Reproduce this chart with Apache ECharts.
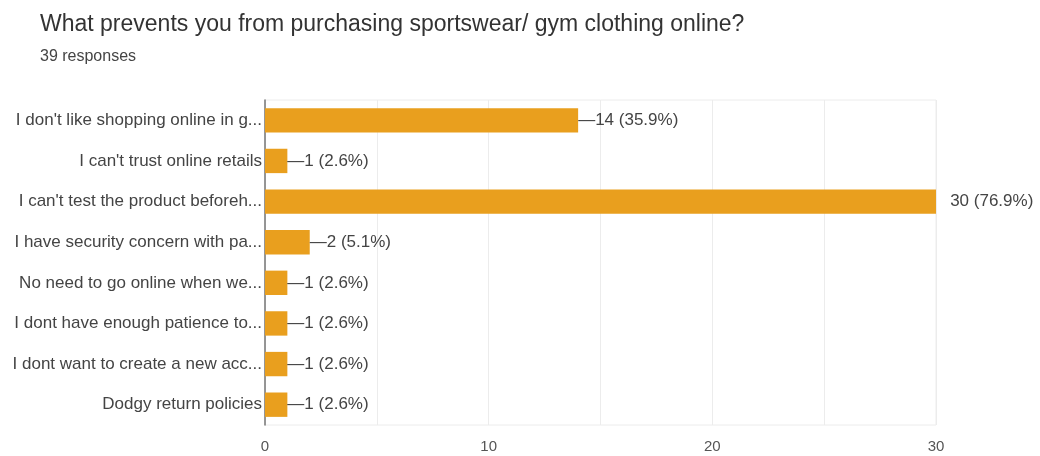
<!DOCTYPE html>
<html>
<head>
<meta charset="utf-8">
<script src="https://cdn.jsdelivr.net/npm/echarts@6/dist/echarts.min.js"></script>
<style>
  html, body { margin: 0; padding: 0; background: #fff; }
  #app { width: 1040px; height: 456px; }
</style>
</head>
<body>
<div id="app"></div>
<script>
// survey answers, top to bottom
const categories = [
  "I don't like shopping online in g...",
  "I can't trust online retails",
  "I can't test the product beforeh...",
  "I have security concern with pa...",
  "No need to go online when we...",
  "I dont have enough patience to...",
  "I dont want to create a new acc...",
  "Dodgy return policies"
];
const counts = [14, 1, 30, 2, 1, 1, 1, 1];
const percents = ["35.9%", "2.6%", "76.9%", "5.1%", "2.6%", "2.6%", "2.6%", "2.6%"];
const xTicks = [0, 10, 20, 30];

var myChart = echarts.init(document.getElementById("app"));
let option = {
  animation: false,
  title: {
    text: "What prevents you from purchasing sportswear/ gym clothing online?",
    subtext: "39 responses",
    left: 35,
    top: 8,
    itemGap: 13,
    textStyle: {
      fontFamily: "Liberation Sans",
      fontSize: 23,
      fontWeight: "normal",
      color: "#333"
    },
    subtextStyle: {
      fontFamily: "Liberation Sans",
      fontSize: 16,
      color: "#444"
    }
  },
  grid: {
    left: 265,
    right: 104,
    top: 100,
    bottom: 31,
    show: true,
    borderColor: "#ececec",
    borderWidth: 1
  },
  xAxis: {
    type: "value",
    min: 0,
    max: 30,
    interval: 5,
    axisLine: { show: false },
    axisTick: { show: false },
    splitLine: { lineStyle: { color: "#ececec", width: 1 } },
    axisLabel: {
      margin: 14,
      fontFamily: "Liberation Sans",
      fontSize: 15,
      color: "#555",
      formatter: function (v) {
        return xTicks.indexOf(v) >= 0 ? String(v) : "";
      }
    }
  },
  yAxis: {
    type: "category",
    inverse: true,
    data: categories,
    axisLine: { show: true, lineStyle: { color: "#777", width: 1.5 } },
    axisTick: { show: false },
    axisLabel: {
      margin: 3,
      fontFamily: "Liberation Sans",
      fontSize: 17,
      color: "#444"
    }
  },
  series: [
    {
      type: "bar",
      barWidth: "60%",
      data: counts,
      itemStyle: { color: "#E99F1E" },
      label: {
        show: true,
        position: "right",
        distance: 0,
        fontFamily: "Liberation Sans",
        fontSize: 17,
        color: "#444",
        formatter: function (p) {
          const txt = p.value + " (" + percents[p.dataIndex] + ")";
          return p.value === 30 ? "   " + txt : "\u2014" + txt;
        }
      }
    }
  ]
};
myChart.setOption(option);
</script>
</body>
</html>
